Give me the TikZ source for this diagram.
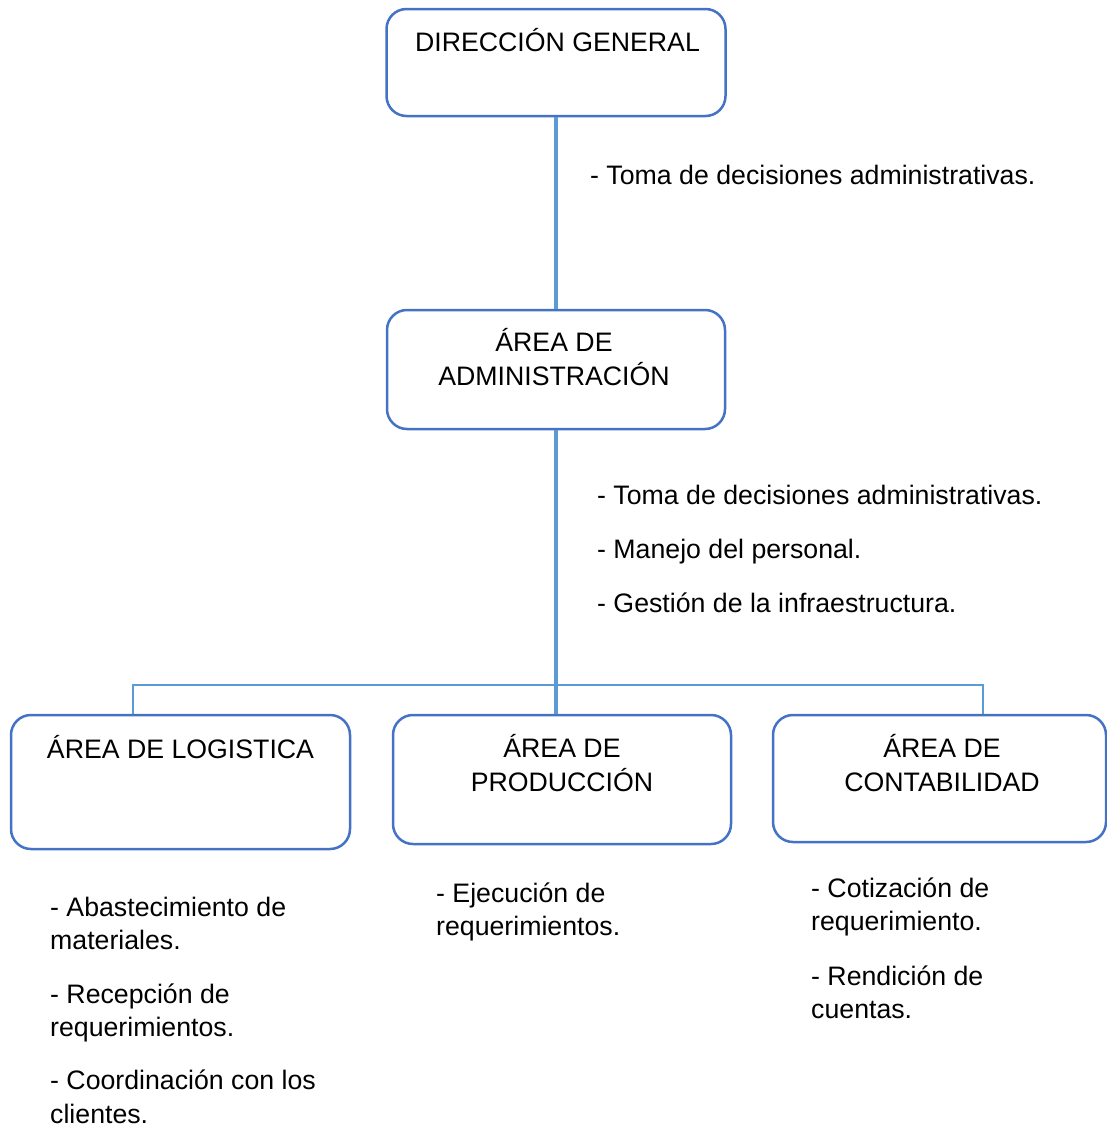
\documentclass[tikz,border=0pt]{standalone}
\usepackage{fontspec}
\setmainfont{Liberation Sans}
\usetikzlibrary{positioning}
\definecolor{boxblue}{HTML}{4472C4}
\definecolor{lineblue}{HTML}{5B9BD5}

\begin{document}
\begin{tikzpicture}[x=1pt,y=-1pt,
	area/.style={draw=boxblue,line width=2.5pt,rounded corners=20pt,inner sep=0pt},
	title/.style={anchor=base,align=center,inner sep=0pt,font=\fontsize{26.7}{33.5}\selectfont},
	item/.style={anchor=base west,align=left,inner sep=0pt,font=\fontsize{26.7}{33.5}\selectfont},
	trunk/.style={draw=lineblue,line width=3.5pt},
	bar/.style={draw=lineblue,line width=2pt}]
	\useasboundingbox (0,0) rectangle (1107,1127);
	% boxes
	\node[area,minimum width=339pt,minimum height=107pt] (dir) at (556,62.5) {};
	\node[area,minimum width=338pt,minimum height=119pt] (admin) at (556,369.5) {};
	\node[area,minimum width=339pt,minimum height=134pt] (log) at (180.5,782) {};
	\node[area,minimum width=338pt,minimum height=129pt] (prod) at (562,779.5) {};
	\node[area,minimum width=333pt,minimum height=127pt] (cont) at (939.5,778.5) {};
	% box titles (base = last line)
	\node[title] (dirT) at (557.5,51) {DIRECCIÓN GENERAL};
	\node[title] (adminT) at (554,385) {ÁREA DE\\ADMINISTRACIÓN};
	\node[title] (logT) at (180.5,758) {ÁREA DE LOGISTICA};
	\node[title] (prodT) at (562,791) {ÁREA DE\\PRODUCCIÓN};
	\node[title] (contT) at (942,791) {ÁREA DE\\CONTABILIDAD};
	% connectors
	\draw[trunk] (dir.south) -- (admin.north);
	\draw[trunk] (admin.south) -- (admin.south |- prod.north);
	\coordinate (barL) at (133,685);
	\coordinate (barR) at (983,685);
	\draw[bar] (barL |- log.north) -- (barL) -- (barR) -- (barR |- cont.north);
	% functions
	\node[item] (dirF) at (590,184) {- Toma de decisiones administrativas.};
	\node[item] (adminF1) at (597,504) {- Toma de decisiones administrativas.};
	\node[item] (adminF2) at (597,558) {- Manejo del personal.};
	\node[item] (adminF3) at (597,612) {- Gestión de la infraestructura.};
	\node[item] (logF1) at (50,949.5) {- Abastecimiento de\\materiales.};
	\node[item] (logF2) at (50,1036.5) {- Recepción de\\requerimientos.};
	\node[item] (logF3) at (50,1123) {- Coordinación con los\\clientes.};
	\node[item] (prodF1) at (436,935.5) {- Ejecución de\\requerimientos.};
	\node[item] (contF1) at (811,930.5) {- Cotización de\\requerimiento.};
	\node[item] (contF2) at (811,1018.5) {- Rendición de\\cuentas.};
\end{tikzpicture}
\end{document}
